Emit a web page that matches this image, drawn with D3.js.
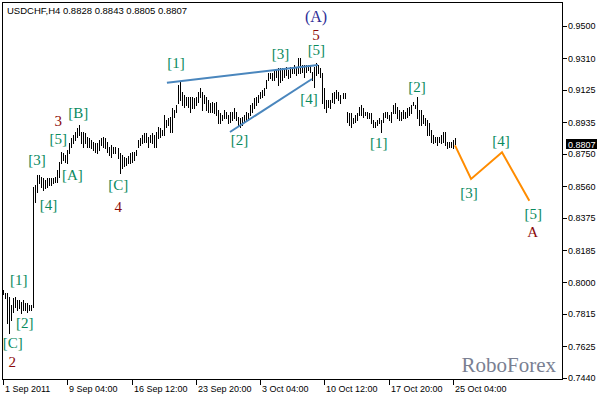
<!DOCTYPE html>
<html>
<head>
<meta charset="utf-8">
<script src="https://cdn.jsdelivr.net/npm/d3@7"></script>
<style>
  html, body { margin: 0; padding: 0; background: #fff; }
  svg { display: block; }
</style>
</head>
<body>
<div class="chart"></div>
<script>
// USDCHF H4 bars, 1 Sep - 27 Oct 2011 (high / low per bar)
const highs = [
  0.7953, 0.7936, 0.7936, 0.7912, 0.7865, 0.7906, 0.7912, 0.7895, 0.7895, 0.7883,
  0.7895, 0.7877, 0.7877, 0.7865, 0.7865, 0.8556, 0.8568, 0.8626, 0.8626, 0.8615,
  0.8609, 0.8597, 0.8609, 0.8609, 0.8609, 0.8609, 0.8615, 0.8656, 0.8702, 0.8761,
  0.8755, 0.8743, 0.8773, 0.8814, 0.8843, 0.8860, 0.8878, 0.8901, 0.8919, 0.8878,
  0.8878, 0.8872, 0.8849, 0.8843, 0.8831, 0.8819, 0.8814, 0.8814, 0.8831, 0.8843,
  0.8849, 0.8843, 0.8819, 0.8790, 0.8802, 0.8790, 0.8790, 0.8784, 0.8755, 0.8743,
  0.8732, 0.8726, 0.8737, 0.8755, 0.8761, 0.8761, 0.8773, 0.8831, 0.8843, 0.8860,
  0.8872, 0.8872, 0.8849, 0.8860, 0.8872, 0.8860, 0.8878, 0.8907, 0.8901, 0.8890,
  0.8977, 0.8948, 0.8960, 0.8966, 0.9018, 0.9007, 0.9036, 0.9153, 0.9176, 0.9112,
  0.9094, 0.9083, 0.9083, 0.9083, 0.9083, 0.9077, 0.9083, 0.9112, 0.9135, 0.9112,
  0.9094, 0.9083, 0.9065, 0.9048, 0.9053, 0.9048, 0.9053, 0.9007, 0.8989, 0.8977,
  0.9007, 0.8995, 0.8977, 0.8995, 0.8995, 0.9018, 0.8995, 0.8966, 0.8960, 0.8966,
  0.8977, 0.8995, 0.8989, 0.9036, 0.9048, 0.9077, 0.9083, 0.9094, 0.9112, 0.9124,
  0.9135, 0.9182, 0.9223, 0.9223, 0.9223, 0.9241, 0.9241, 0.9252, 0.9252, 0.9252,
  0.9252, 0.9258, 0.9241, 0.9258, 0.9258, 0.9270, 0.9258, 0.9311, 0.9311, 0.9270,
  0.9270, 0.9270, 0.9270, 0.9270, 0.9229, 0.9258, 0.9282, 0.9270, 0.9252, 0.9223,
  0.9135, 0.9065, 0.9065, 0.9065, 0.9106, 0.9112, 0.9124, 0.9112, 0.9094, 0.9106,
  0.9106, 0.8995, 0.8989, 0.8989, 0.8960, 0.8977, 0.8989, 0.9024, 0.9036, 0.9018,
  0.8995, 0.8995, 0.8989, 0.8989, 0.8948, 0.8936, 0.8948, 0.8960, 0.8948, 0.8989,
  0.8995, 0.8995, 0.8977, 0.8995, 0.9036, 0.9048, 0.9024, 0.9007, 0.8995, 0.9007,
  0.8995, 0.9018, 0.9024, 0.9036, 0.9053, 0.9036, 0.9083, 0.9007, 0.9007, 0.8977,
  0.8960, 0.8948, 0.8931, 0.8890, 0.8860, 0.8849, 0.8849, 0.8849, 0.8860, 0.8878,
  0.8878, 0.8819, 0.8819, 0.8819, 0.8831, 0.8843
];
const lows = [
  0.7930, 0.7906, 0.7760, 0.7702, 0.7778, 0.7824, 0.7854, 0.7836, 0.7848, 0.7819,
  0.7836, 0.7836, 0.7824, 0.7836, 0.7836, 0.7854, 0.8468, 0.8527, 0.8579, 0.8556,
  0.8538, 0.8550, 0.8556, 0.8568, 0.8568, 0.8579, 0.8585, 0.8585, 0.8615, 0.8696,
  0.8714, 0.8702, 0.8696, 0.8755, 0.8790, 0.8814, 0.8831, 0.8849, 0.8860, 0.8814,
  0.8790, 0.8814, 0.8790, 0.8790, 0.8784, 0.8773, 0.8761, 0.8755, 0.8773, 0.8802,
  0.8790, 0.8784, 0.8761, 0.8743, 0.8732, 0.8755, 0.8755, 0.8726, 0.8638, 0.8667,
  0.8679, 0.8685, 0.8696, 0.8696, 0.8702, 0.8714, 0.8743, 0.8790, 0.8802, 0.8814,
  0.8819, 0.8819, 0.8790, 0.8819, 0.8814, 0.8790, 0.8790, 0.8843, 0.8849, 0.8860,
  0.8860, 0.8907, 0.8919, 0.8878, 0.8878, 0.8966, 0.8995, 0.9048, 0.9065, 0.9036,
  0.9024, 0.9036, 0.9024, 0.8995, 0.9018, 0.9018, 0.9036, 0.9053, 0.9083, 0.9007,
  0.9048, 0.9007, 0.8995, 0.8995, 0.8995, 0.8989, 0.8977, 0.8931, 0.8931, 0.8948,
  0.8960, 0.8960, 0.8931, 0.8936, 0.8948, 0.8960, 0.8948, 0.8919, 0.8907, 0.8919,
  0.8936, 0.8948, 0.8948, 0.8977, 0.8995, 0.9018, 0.9036, 0.9053, 0.9077, 0.9083,
  0.9094, 0.9135, 0.9182, 0.9194, 0.9182, 0.9182, 0.9200, 0.9153, 0.9171, 0.9182,
  0.9200, 0.9212, 0.9194, 0.9200, 0.9223, 0.9223, 0.9212, 0.9223, 0.9223, 0.9229,
  0.9200, 0.9229, 0.9241, 0.9229, 0.9182, 0.9141, 0.9212, 0.9223, 0.9200, 0.9048,
  0.9018, 0.8995, 0.9024, 0.9018, 0.9053, 0.9048, 0.9077, 0.9065, 0.9048, 0.9077,
  0.9077, 0.8936, 0.8919, 0.8907, 0.8931, 0.8936, 0.8948, 0.8977, 0.8977, 0.8966,
  0.8977, 0.8960, 0.8960, 0.8931, 0.8907, 0.8907, 0.8919, 0.8931, 0.8878, 0.8936,
  0.8966, 0.8960, 0.8948, 0.8936, 0.8989, 0.8989, 0.8960, 0.8948, 0.8948, 0.8960,
  0.8960, 0.8966, 0.8977, 0.8989, 0.9036, 0.9018, 0.8960, 0.8919, 0.8919, 0.8931,
  0.8919, 0.8860, 0.8860, 0.8819, 0.8814, 0.8819, 0.8802, 0.8819, 0.8814, 0.8819,
  0.8802, 0.8784, 0.8790, 0.8790, 0.8784, 0.8805
];

const lastQuote = ['0.8828', '0.8843', '0.8805', '0.8807'];
const lastClose = 0.8807;

// axis ticks
const priceTicks = [0.9500, 0.9310, 0.9125, 0.8935, 0.8750, 0.8560, 0.8375, 0.8185, 0.8000, 0.7815, 0.7625, 0.7440];
const timeTickBars = [0, 32, 64, 96, 128, 160, 192, 224];
const timeTickLabels = ['1 Sep 2011', '9 Sep 04:00', '16 Sep 12:00', '23 Sep 20:00', '3 Oct 04:00', '10 Oct 12:00', '17 Oct 20:00', '25 Oct 04:00'];

// wedge lines [bar, price]
const wedgeUpper = [[81.6, 0.9166], [156.8, 0.9270]];
const wedgeLower = [[113, 0.8878], [153.8, 0.9188]];

// forecast path [bar, price]
const forecast = [[225, 0.8800], [233, 0.8603], [248.4, 0.8759], [262, 0.8476]];

// wave labels: text, bar, price, degree
const waveText = ['(A)', '5', '[5]', '[3]', '[4]', '[1]', '[2]', '[1]', '[2]', '[3]', '[4]', '[5]', 'A',
  '3', '[B]', '[5]', '[3]', '[A]', '[4]', '[C]', '4', '[1]', '[2]', '[C]', '2'];
const waveBar = [155.8, 155.8, 156.0, 138.1, 152.3, 86.1, 117.7, 187.0, 206.1, 232.0, 247.9, 264.0, 263.7,
  27.5, 37.5, 27.5, 16.9, 34.5, 22.7, 57.4, 57.4, 7.8, 10.8, 4.8, 4.6];
const wavePrice = [0.9548, 0.9446, 0.9358, 0.9334, 0.9071, 0.9279, 0.8831, 0.8812, 0.9140, 0.8523, 0.8827, 0.8398, 0.8293,
  0.8944, 0.8991, 0.8835, 0.8714, 0.8626, 0.8451, 0.8568, 0.8437, 0.8012, 0.7760, 0.7646, 0.7532];
const waveDegree = ['major', 'minor', 'minute', 'minute', 'minute', 'minute', 'minute', 'minute', 'minute', 'minute', 'minute', 'minute', 'minor',
  'minor', 'minute', 'minute', 'minute', 'minute', 'minute', 'minute', 'minor', 'minute', 'minute', 'minute', 'minor'];

const width = 602;
const height = 398;
const frame = { left: 2.5, top: 2.5, right: 562.5, bottom: 379.5 };

const degreeColor = { major: '#2d2d96', minor: '#8b0a0a', minute: '#0a8a5e' };

const svg = d3.select('.chart')
  .append('svg')
  .attr('width', width)
  .attr('height', height);

svg.append('rect')
  .attr('width', width)
  .attr('height', height)
  .attr('fill', '#fff');

const x = d3.scaleLinear().domain([0, highs.length - 1]).range([3, 455]);
const y = d3.scaleLinear().domain([0.7440, 0.9500]).range([377.7, 25.7]);

// frame
svg.append('rect')
  .attr('x', frame.left)
  .attr('y', frame.top)
  .attr('width', frame.right - frame.left)
  .attr('height', frame.bottom - frame.top)
  .attr('fill', 'none')
  .attr('stroke', '#000')
  .attr('shape-rendering', 'crispEdges');

// header
svg.append('text')
  .attr('x', 7)
  .attr('y', 14)
  .attr('font-family', 'Liberation Sans, Arial, sans-serif')
  .attr('font-size', 9.5)
  .attr('fill', '#000')
  .text('USDCHF,H4  ' + lastQuote.join(' '));

// right price axis
const yAxis = svg.append('g').attr('class', 'y-axis');
yAxis.selectAll('line')
  .data(priceTicks)
  .enter().append('line')
  .attr('x1', frame.right)
  .attr('x2', frame.right + 4)
  .attr('y1', (d) => Math.round(y(d)) + 0.5)
  .attr('y2', (d) => Math.round(y(d)) + 0.5)
  .attr('stroke', '#000')
  .attr('shape-rendering', 'crispEdges');
yAxis.selectAll('text')
  .data(priceTicks)
  .enter().append('text')
  .attr('x', 568)
  .attr('y', (d) => y(d) + 3.5)
  .attr('font-family', 'Liberation Sans, Arial, sans-serif')
  .attr('font-size', 9)
  .attr('fill', '#000')
  .text((d) => d.toFixed(4));

// current price marker
const py = y(lastClose);
svg.append('rect')
  .attr('x', 566)
  .attr('y', Math.round(py) - 5)
  .attr('width', 31)
  .attr('height', 10)
  .attr('fill', '#000');
svg.append('text')
  .attr('x', 568)
  .attr('y', py + 3.5)
  .attr('font-family', 'Liberation Sans, Arial, sans-serif')
  .attr('font-size', 9)
  .attr('fill', '#fff')
  .text(lastClose.toFixed(4));

// bottom time axis
const xAxis = svg.append('g').attr('class', 'x-axis');
xAxis.selectAll('line')
  .data(timeTickBars)
  .enter().append('line')
  .attr('x1', (d) => Math.round(x(d)) + 0.5)
  .attr('x2', (d) => Math.round(x(d)) + 0.5)
  .attr('y1', frame.bottom)
  .attr('y2', frame.bottom + 5)
  .attr('stroke', '#000')
  .attr('shape-rendering', 'crispEdges');
xAxis.selectAll('text')
  .data(timeTickBars)
  .enter().append('text')
  .attr('x', (d) => Math.round(x(d)) + 2)
  .attr('y', 392)
  .attr('font-family', 'Liberation Sans, Arial, sans-serif')
  .attr('font-size', 9)
  .attr('fill', '#000')
  .text((d, i) => timeTickLabels[i]);

// bars
svg.append('g')
  .selectAll('line')
  .data(highs)
  .enter().append('line')
  .attr('x1', (d, i) => Math.round(x(i)) + 0.5)
  .attr('x2', (d, i) => Math.round(x(i)) + 0.5)
  .attr('y1', (d) => y(d))
  .attr('y2', (d, i) => y(lows[i]) + 1)
  .attr('stroke', '#000')
  .attr('stroke-width', 1)
  .attr('shape-rendering', 'crispEdges');

// wedge
const line = d3.line().x((d) => x(d[0])).y((d) => y(d[1]));
[wedgeUpper, wedgeLower].forEach((pts) => {
  svg.append('path')
    .attr('d', line(pts))
    .attr('fill', 'none')
    .attr('stroke', '#4a86bd')
    .attr('stroke-width', 2);
});

// forecast
svg.append('path')
  .attr('d', line(forecast))
  .attr('fill', 'none')
  .attr('stroke', '#ff8c00')
  .attr('stroke-width', 2);

// wave labels
svg.append('g')
  .selectAll('text')
  .data(waveText)
  .enter().append('text')
  .attr('x', (d, i) => x(waveBar[i]))
  .attr('y', (d, i) => y(wavePrice[i]) + 5)
  .attr('text-anchor', 'middle')
  .attr('font-family', 'Liberation Serif, Times New Roman, serif')
  .attr('font-size', (d, i) => (waveDegree[i] === 'major' ? 16 : 15))
  .attr('fill', (d, i) => degreeColor[waveDegree[i]])
  .text((d) => d);

// watermark
svg.append('text')
  .attr('x', 556)
  .attr('y', 372)
  .attr('text-anchor', 'end')
  .attr('font-family', 'Liberation Serif, Times New Roman, serif')
  .attr('font-size', 21)
  .attr('fill', '#7a7f92')
  .text('RoboForex');
</script>
</body>
</html>
